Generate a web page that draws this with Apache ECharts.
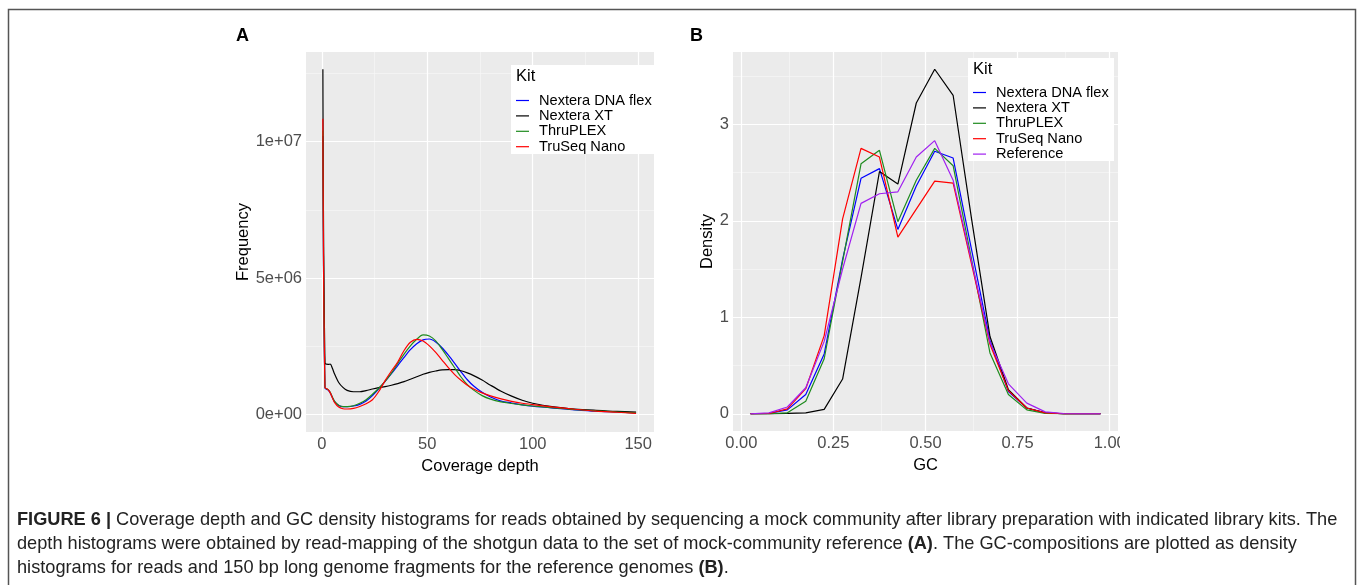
<!DOCTYPE html>
<html>
<head>
<meta charset="utf-8">
<script src="https://cdn.jsdelivr.net/npm/echarts@6/dist/echarts.min.js"></script>
<style>
html, body { margin: 0; padding: 0; background: #fff; }
#chart { width: 1358px; height: 585px; }
</style>
</head>
<body>
<div id="chart"></div>
<script>
// kits + colours (same order as the ggplot legend)
var kits = ['Nextera DNA flex', 'Nextera XT', 'ThruPLEX', 'TruSeq Nano'];
var kitsGC = ['Nextera DNA flex', 'Nextera XT', 'ThruPLEX', 'TruSeq Nano', 'Reference'];
var kitColors = ['#0000FF', '#000000', '#1E8B1E', '#FF0000', '#A020F0'];

// panel A - coverage depth histogram
var depth = [0.5, 1.5, 3, 4, 5, 6, 8, 10, 12, 15, 18, 21, 24, 27, 30, 33, 36, 39, 42, 45,
             48, 51, 54, 57, 60, 63, 66, 69, 72, 76, 80, 85, 90, 95, 100, 110, 120, 130, 140, 149];
var freqDnaFlex = [10.2e6, 0.98e6, 0.90e6, 0.80e6, 0.63e6, 0.48e6, 0.34e6, 0.30e6, 0.30e6, 0.32e6,
                   0.38e6, 0.50e6, 0.70e6, 0.95e6, 1.22e6, 1.50e6, 1.80e6, 2.10e6, 2.38e6, 2.60e6,
                   2.74e6, 2.77e6, 2.66e6, 2.45e6, 2.18e6, 1.88e6, 1.57e6, 1.28e6, 1.05e6, 0.82e6,
                   0.65e6, 0.50e6, 0.43e6, 0.36e6, 0.31e6, 0.24e6, 0.18e6, 0.13e6, 0.10e6, 0.07e6];
var freqXT = [12.64e6, 1.89e6, 1.84e6, 1.85e6, 1.70e6, 1.50e6, 1.18e6, 1.00e6, 0.89e6, 0.84e6,
              0.84e6, 0.88e6, 0.94e6, 0.99e6, 1.03e6, 1.08e6, 1.14e6, 1.21e6, 1.30e6, 1.39e6,
              1.48e6, 1.55e6, 1.60e6, 1.64e6, 1.65e6, 1.65e6, 1.61e6, 1.53e6, 1.43e6, 1.27e6,
              1.08e6, 0.86e6, 0.68e6, 0.53e6, 0.42e6, 0.29e6, 0.21e6, 0.16e6, 0.12e6, 0.10e6];
var freqThruplex = [10.4e6, 1.00e6, 0.92e6, 0.82e6, 0.65e6, 0.50e6, 0.35e6, 0.30e6, 0.30e6, 0.33e6,
                    0.42e6, 0.55e6, 0.75e6, 0.97e6, 1.22e6, 1.52e6, 1.88e6, 2.22e6, 2.52e6, 2.76e6,
                    2.92e6, 2.88e6, 2.70e6, 2.40e6, 2.06e6, 1.72e6, 1.38e6, 1.10e6, 0.90e6, 0.70e6,
                    0.57e6, 0.47e6, 0.41e6, 0.36e6, 0.32e6, 0.25e6, 0.19e6, 0.14e6, 0.10e6, 0.07e6];
var freqTruSeq = [10.83e6, 1.00e6, 0.92e6, 0.80e6, 0.62e6, 0.45e6, 0.28e6, 0.22e6, 0.21e6, 0.23e6,
                  0.30e6, 0.40e6, 0.55e6, 0.85e6, 1.25e6, 1.60e6, 1.93e6, 2.35e6, 2.65e6, 2.76e6,
                  2.70e6, 2.52e6, 2.28e6, 2.00e6, 1.72e6, 1.47e6, 1.26e6, 1.08e6, 0.94e6, 0.80e6,
                  0.69e6, 0.58e6, 0.49e6, 0.42e6, 0.37e6, 0.28e6, 0.20e6, 0.13e6, 0.09e6, 0.05e6];

// panel B - GC density
var gcBins = [0.025, 0.075, 0.125, 0.175, 0.225, 0.275, 0.325, 0.375, 0.425, 0.475,
              0.525, 0.575, 0.625, 0.675, 0.725, 0.775, 0.825, 0.875, 0.925, 0.975];
var gcDnaFlex = [0, 0.005, 0.04, 0.20, 0.62, 1.60, 2.44, 2.54, 1.91, 2.36, 2.72, 2.65, 1.70, 0.76, 0.23, 0.06, 0.01, 0, 0, 0];
var gcXT = [0, 0, 0.005, 0.01, 0.045, 0.36, 1.41, 2.51, 2.38, 3.22, 3.57, 3.30, 2.02, 0.80, 0.25, 0.06, 0.01, 0, 0, 0];
var gcThruplex = [0, 0, 0.01, 0.13, 0.57, 1.58, 2.59, 2.73, 1.99, 2.42, 2.75, 2.57, 1.60, 0.63, 0.20, 0.04, 0.005, 0, 0, 0];
var gcTruSeq = [0, 0.003, 0.05, 0.26, 0.81, 2.02, 2.75, 2.66, 1.83, 2.12, 2.41, 2.39, 1.55, 0.72, 0.24, 0.06, 0.01, 0, 0, 0];
var gcReference = [0, 0.01, 0.07, 0.27, 0.75, 1.50, 2.18, 2.28, 2.30, 2.66, 2.83, 2.42, 1.58, 0.74, 0.31, 0.11, 0.02, 0.003, 0, 0];

// ticks
var depthTicks = [0, 50, 100, 150];
var depthMinor = [25, 75, 125];
var freqTicks = [0, 5e6, 1e7];
var freqTickLabels = ['0e+00', '5e+06', '1e+07'];
var freqMinor = [2.5e6, 7.5e6, 12.5e6];
var gcTicks = [0, 0.25, 0.5, 0.75, 1];
var gcTickLabels = ['0.00', '0.25', '0.50', '0.75', '1.00'];
var gcMinor = [0.125, 0.375, 0.625, 0.875];
var densTicks = [0, 1, 2, 3];
var densMinor = [0.5, 1.5, 2.5, 3.5];

var FONT = 'Liberation Sans, Arial, sans-serif';
var myChart = echarts.init(document.getElementById('chart'));

function valueAxis(gridIndex, min, max, ticks, labels, name, gap) {
    return {
        type: 'value', gridIndex: gridIndex, min: min, max: max,
        axisLine: { show: false },
        splitLine: { show: false },
        axisTick: { show: true, length: 3, customValues: ticks, lineStyle: { color: '#333', width: 1 } },
        axisLabel: {
            customValues: ticks, margin: 4, color: '#4D4D4D', fontSize: 16.5, fontFamily: FONT,
            formatter: function (v) {
                var i = ticks.indexOf(v);
                return labels ? labels[i] : String(v);
            }
        },
        name: name, nameLocation: 'middle', nameGap: gap,
        nameTextStyle: { color: '#000', fontSize: 16.5, fontFamily: FONT }
    };
}

// white grid lines drawn as mark lines so they follow the scale
function gridLines(xMajor, xMinor, yMajor, yMinor) {
    var d = [];
    xMinor.forEach(function (v) { d.push({ xAxis: v, lineStyle: { color: '#F7F7F7', width: 0.7 } }); });
    yMinor.forEach(function (v) { d.push({ yAxis: v, lineStyle: { color: '#F7F7F7', width: 0.7 } }); });
    xMajor.forEach(function (v) { d.push({ xAxis: v, lineStyle: { color: '#FFFFFF', width: 1.2 } }); });
    yMajor.forEach(function (v) { d.push({ yAxis: v, lineStyle: { color: '#FFFFFF', width: 1.2 } }); });
    return {
        silent: true, z: 1, symbol: ['none', 'none'], label: { show: false },
        emphasis: { disabled: true }, animation: false,
        lineStyle: { type: 'solid' }, data: d
    };
}

var freqSeries = [freqDnaFlex, freqXT, freqThruplex, freqTruSeq];
var gcSeries = [gcDnaFlex, gcXT, gcThruplex, gcTruSeq, gcReference];

var series = [];
freqSeries.forEach(function (vals, k) {
    series.push({
        name: kits[k], type: 'line', xAxisIndex: 0, yAxisIndex: 0,
        data: depth.map(function (d, i) { return [d, vals[i]]; }),
        symbol: 'none', smooth: 0.3, z: 2,
        itemStyle: { color: kitColors[k] },
        lineStyle: { color: kitColors[k], width: 1.2 },
        markLine: k === 0 ? gridLines(depthTicks, depthMinor, freqTicks, freqMinor) : undefined
    });
});
gcSeries.forEach(function (vals, k) {
    series.push({
        name: kitsGC[k], type: 'line', xAxisIndex: 1, yAxisIndex: 1,
        data: gcBins.map(function (g, i) { return [g, vals[i]]; }),
        symbol: 'none', z: 2,
        itemStyle: { color: kitColors[k] },
        lineStyle: { color: kitColors[k], width: 1.2 },
        markLine: k === 0 ? gridLines(gcTicks, gcMinor, densTicks, densMinor) : undefined
    });
});

var keyIcon = 'path://M0,6.4 L13,6.4 L13,7.6 L0,7.6 Z M0,0 L0,0 M13,14 L13,14';

function kitLegend(names, left, top) {
    return {
        data: names, orient: 'vertical', left: left, top: top, padding: 0,
        itemWidth: 13, itemHeight: 14, itemGap: 0.4, icon: keyIcon, selectedMode: false,
        itemStyle: { borderWidth: 0 },
        textStyle: { fontSize: 14.6, color: '#000', fontFamily: FONT, padding: [0, 0, 0, 5] }
    };
}

var caption = [
    '{b|FIGURE 6 |} Coverage depth and GC density histograms for reads obtained by sequencing a mock community after library preparation with indicated library kits. The',
    'depth histograms were obtained by read-mapping of the shotgun data to the set of mock-community reference {b|(A)}. The GC-compositions are plotted as density',
    'histograms for reads and 150 bp long genome fragments for the reference genomes {b|(B)}.'
];

var option = {
    animation: false,
    grid: [
        { left: 306, top: 52, width: 348, height: 380, show: true, backgroundColor: '#EBEBEB', borderWidth: 0 },
        { left: 733, top: 52, width: 385, height: 379, show: true, backgroundColor: '#EBEBEB', borderWidth: 0 }
    ],
    xAxis: [
        valueAxis(0, -7.5, 157.5, depthTicks, null, 'Coverage depth', 20),
        valueAxis(1, -0.0225, 1.0225, gcTicks, gcTickLabels, 'GC', 20)
    ],
    yAxis: [
        valueAxis(0, -632000, 13272000, freqTicks, freqTickLabels, 'Frequency', 53),
        valueAxis(1, -0.1785, 3.7485, densTicks, null, 'Density', 15)
    ],
    legend: [kitLegend(kits, 516, 93), kitLegend(kitsGC, 973, 85)],
    series: series,
    graphic: [
        { type: 'rect', z: 100, silent: true, shape: { x: 8.5, y: 9.5, width: 1347, height: 620 },
          style: { fill: 'none', stroke: '#555', lineWidth: 1.5 } },
        { type: 'rect', z: 3, silent: true, shape: { x: 511, y: 65, width: 143, height: 89 }, style: { fill: '#fff' } },
        { type: 'rect', z: 3, silent: true, shape: { x: 968, y: 58, width: 146, height: 103 }, style: { fill: '#fff' } },
        { type: 'text', z: 5, left: 516, top: 68, style: { text: 'Kit', font: '16.5px ' + FONT, fill: '#000' } },
        { type: 'text', z: 5, left: 973, top: 61, style: { text: 'Kit', font: '16.5px ' + FONT, fill: '#000' } },
        { type: 'text', z: 5, left: 236, top: 27, style: { text: 'A', font: 'bold 18px ' + FONT, fill: '#000' } },
        { type: 'text', z: 5, left: 690, top: 27, style: { text: 'B', font: 'bold 18px ' + FONT, fill: '#000' } },
        // right edge of panel B was cropped in the figure
        { type: 'rect', z: 100, silent: true, shape: { x: 1120, y: 433, width: 40, height: 20 }, style: { fill: '#fff' } },
        {
            type: 'text', z: 5, left: 17, top: 508,
            style: {
                text: caption.join('\n'), font: '18.2px ' + FONT, fill: '#222', lineHeight: 24,
                rich: { b: { fontWeight: 'bold', fontSize: 18.2, fontFamily: FONT, fill: '#222', lineHeight: 24 } }
            }
        }
    ]
};

myChart.setOption(option);
</script>
</body>
</html>
